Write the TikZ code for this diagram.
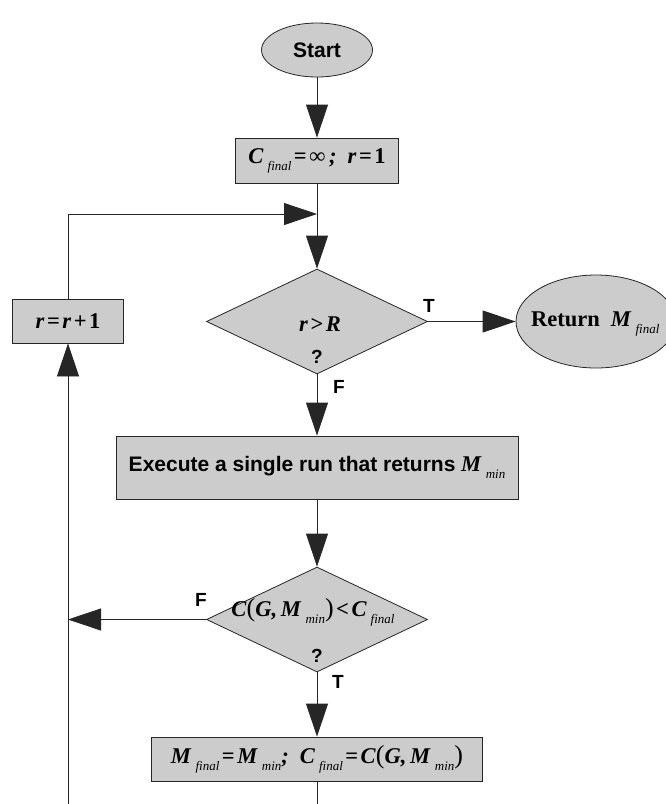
\documentclass[tikz,border=0pt]{standalone}
\usepackage{fontspec}
\setmainfont{Liberation Serif}
\newfontfamily\hvb{Liberation Sans}
\usetikzlibrary{shapes.geometric,arrows.meta}
\definecolor{boxgray}{HTML}{CCCCCC}
\newcommand\mi[1]{\textbf{\textit{#1}}}
\newcommand\sbs[1]{\kern4pt\raisebox{-7pt}{\fontsize{13}{13}\selectfont\itshape #1}}
\newcommand\op[1]{\kern2.5pt\textbf{#1}\kern2.5pt}
\newcommand\lp{{\fontsize{26}{26}\selectfont(}}
\newcommand\rp{{\fontsize{26}{26}\selectfont)}}
\begin{document}
\begin{tikzpicture}[x=1pt,y=-1pt,
 shp/.style={draw=black!85, line width=0.8pt, fill=boxgray, inner sep=0pt},
 procbox/.style={shp, rectangle},
 termin/.style={shp, ellipse},
 decis/.style={shp, diamond, minimum width=221pt, minimum height=105pt},
 conn/.style={draw=black!85, line width=0.8pt},
 arr/.style={conn, -{Triangle[length=33pt,width=22pt]}},
 sans/.style={font=\fontsize{21}{21}\selectfont\hvb\bfseries},
 lbl/.style={font=\fontsize{19}{19}\selectfont\hvb\bfseries, inner sep=0pt},
 mth/.style={font=\fontsize{22.5}{22.5}\selectfont}
]
\useasboundingbox (0,0) rectangle (665,804);

\node[termin, minimum width=111pt, minimum height=54pt, sans] (start) at (317,50) {Start};
\node[procbox, minimum width=163pt, minimum height=45pt, mth] (init) at (317,160.5)
  {\mi{C}\sbs{final}\op{=}\textbf{∞}\,\mi{;}\hspace{11pt}\mi{r}\op{=}\textbf{1}};
\coordinate (join) at (317,214);
\node[decis] (d1) at (317,321.5) {};
\node[mth, inner sep=0pt] (d1t) at (320,324) {\mi{r}\op{>}\mi{R}};
\node[lbl] (d1q) at (317,357) {?};
\node[termin, minimum width=160pt, minimum height=93pt] (ret) at (596,321.5) {};
\node[mth, inner sep=0pt, anchor=west] (rett) at (531,324) {\textbf{Return}\hspace{11pt}\mi{M}\sbs{final}};
\node[procbox, minimum width=111pt, minimum height=44pt, mth] (inc) at (68,321)
  {\mi{r}\op{=}\mi{r}\op{+}\textbf{1}};
\node[lbl] (tl1) at (429,306) {T};
\node[lbl] (fl1) at (339,387) {F};
\node[procbox, minimum width=402pt, minimum height=63pt, mth] (exec) at (317,467.5)
  {{\fontsize{21}{21}\selectfont\hvb\bfseries Execute a single run that returns} \mi{M}\sbs{min}};
\node[decis] (d2) at (317,619.5) {};
\node[mth, inner sep=0pt] (d2t) at (313,612)
  {\mi{C}\lp\mi{G}\mi{,}\,\mi{M}\sbs{min}\rp\op{<}\mi{C}\sbs{final}};
\node[lbl] (d2q) at (317,656) {?};
\node[lbl] (fl2) at (201,600) {F};
\node[lbl] (tl2) at (338,682) {T};
\node[procbox, minimum width=331pt, minimum height=44pt, mth] (fin) at (317,759)
  {\mi{M}\sbs{final}\op{=}\mi{M}\sbs{min}\mi{;}\hspace{11pt}\mi{C}\sbs{final}\op{=}\mi{C}\lp\mi{G}\mi{,}\,\mi{M}\sbs{min}\rp};
\coordinate (lj) at (68,619.5);
\coordinate (bl) at (68,806);
\coordinate (be) at (317,806);

\draw[arr] (start) -- (init);
\draw[arr] (init) -- (d1);
\draw[arr] (inc) |- (join);
\draw[arr] (d1.east) -- (ret.west);
\draw[arr] (d1.south) -- (exec.north);
\draw[arr] (exec.south) -- (d2.north);
\draw[arr] (d2.west) -- (lj);
\draw[arr] (d2.south) -- (fin.north);
\draw[arr] (bl) -- (inc.south);
\draw[conn] (fin.south) -- (be);
\end{tikzpicture}
\end{document}
